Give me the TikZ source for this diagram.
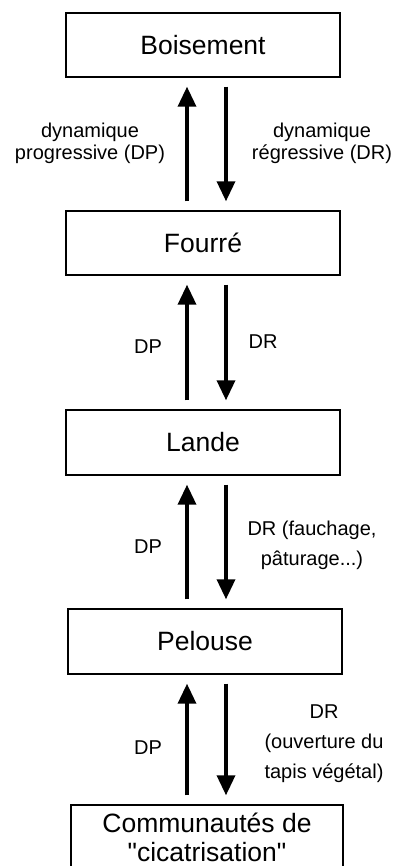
\documentclass[tikz,border=0pt]{standalone}
\usepackage{fontspec}
\setmainfont{Liberation Sans}[Ligatures=TeXOff]
\usetikzlibrary{arrows.meta}
\begin{document}
\begin{tikzpicture}[x=1pt,y=-1pt,
  stagebox/.style={draw=black,line width=1.4pt,minimum width=274pt,inner sep=0pt,
    font=\fontsize{26.5}{29}\selectfont,align=center},
  flowarr/.style={line width=3.5pt,-{Triangle[width=18pt,length=20pt]},
    shorten >=9pt,shorten <=9pt},
  lbl/.style={font=\fontsize{20}{22}\selectfont,align=center,inner sep=0pt},
  lblwide/.style={font=\fontsize{20}{30}\selectfont,align=center,inner sep=0pt}]
\useasboundingbox (0,0) rectangle (401,866);
\clip (0,0) rectangle (401,866);
\node[stagebox,minimum height=64pt] (boise) at (203,45) {Boisement};
\node[stagebox,minimum height=64pt] (fourre) at (203,243) {Fourré};
\node[stagebox,minimum height=65pt] (lande) at (203,442.5) {Lande};
\node[stagebox,minimum height=65pt] (pelouse) at (205,641.5) {Pelouse};
\node[stagebox,minimum width=272pt,minimum height=64pt] (comm) at (207,837) {Communautés de\\"cicatrisation"};
\coordinate (upx) at (187,0);
\coordinate (dnx) at (226,0);
% arrows
\draw[flowarr] (fourre.north -| upx) -- (boise.south -| upx);
\draw[flowarr] (boise.south -| dnx) -- (fourre.north -| dnx);
\draw[flowarr] (lande.north -| upx) -- (fourre.south -| upx);
\draw[flowarr] (fourre.south -| dnx) -- (lande.north -| dnx);
\draw[flowarr] (pelouse.north -| upx) -- (lande.south -| upx);
\draw[flowarr] (lande.south -| dnx) -- (pelouse.north -| dnx);
\draw[flowarr] (comm.north -| upx) -- (pelouse.south -| upx);
\draw[flowarr] (pelouse.south -| dnx) -- (comm.north -| dnx);
% labels
\node[lbl] (l1) at (90,143) {dynamique\\progressive (DP)};
\node[lbl] (l2) at (322,143) {dynamique\\régressive (DR)};
\node[lbl] (l3) at (148,347) {DP};
\node[lbl] (l4) at (263,342) {DR};
\node[lbl] (l5) at (148,547) {DP};
\node[lblwide] (l6) at (312,545) {DR (fauchage,\\pâturage...)};
\node[lbl] (l7) at (148,748) {DP};
\node[lblwide] (l8) at (324,744) {DR\\(ouverture du\\tapis végétal)};
\end{tikzpicture}
\end{document}
